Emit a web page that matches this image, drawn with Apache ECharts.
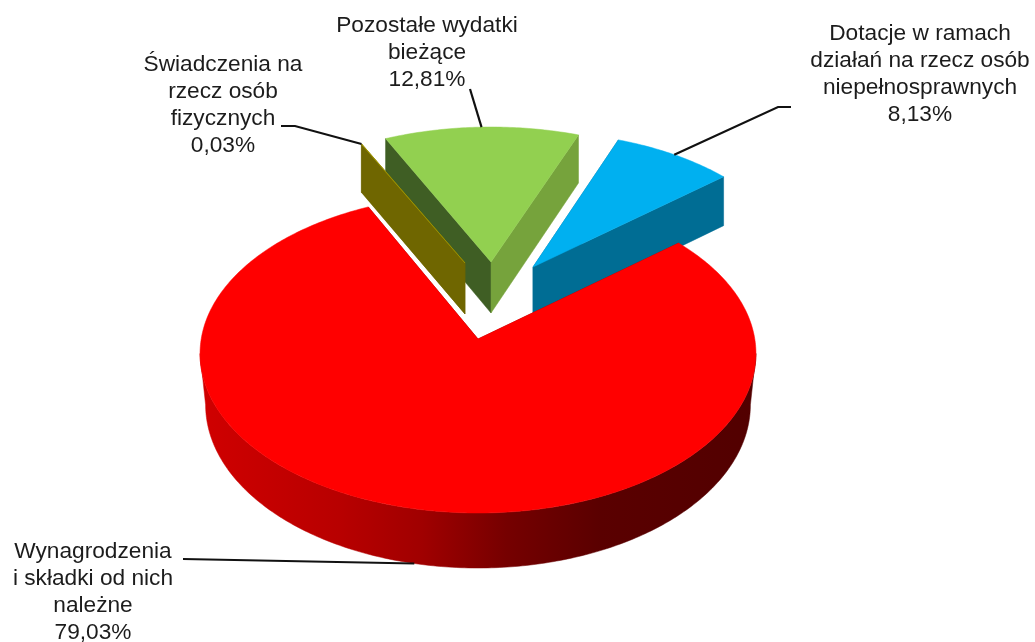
<!DOCTYPE html>
<html>
<head>
<meta charset="utf-8">
<style>html,body{margin:0;padding:0;background:#fff}#c{width:1035px;height:642px}</style>
<script src="https://cdn.jsdelivr.net/npm/echarts@6/dist/echarts.min.js"></script>
</head>
<body>
<div id="c"></div>
<script>
// data, clockwise from the right-hand cut of the large slice
var categories = [
  'Wynagrodzenia\ni składki od nich\nnależne',
  'Świadczenia na\nrzecz osób\nfizycznych',
  'Pozostałe wydatki\nbieżące',
  'Dotacje w ramach\ndziałań na rzecz osób\nniepełnosprawnych'
];
var shares = [79.03, 0.03, 12.81, 8.13];

// layout and style, per slice
var startAngle = 50.1;
var apex = [[478, 339], [465, 263], [491, 262], [533, 267]];
var projA = [276.8, 270, 275.7, 269];
var projB = [158.2, 147, 152.4, 152.4];
var projK = [0.0909, 0.129, 0.129, 0.129];
var bottomScale = [0.98, 1, 1, 1];
var faceColor = ['#FF0000', '#A89E00', '#92D050', '#00B0F0'];
var startWall = ['#8A0000', '#6F6600', '#3F5E24', '#006D94'];
var endWall = ['#8A0000', '#6F6600', '#76A33C', '#006D94'];
var rimWall = ['red', '#6F6600', '#76A33C', '#006D94'];
var paintOrder = [4, 3, 1, 2];
var labelCenter = [[93, 592], [223, 105], [427, 53], [920, 74]];
var leaderEnd = [
  [[183, 559]],
  [[295, 126], [281, 126]],
  [[470, 89]],
  [[778, 107], [791, 107]]
];
var depthBase = 51, depthGrow = 4;

function project(i, deg) {
  var t = deg * Math.PI / 180, X = Math.sin(t), Y = Math.cos(t), w = 1 + projK[i] * Y;
  return [apex[i][0] + projA[i] * X / w, apex[i][1] - projB[i] * Y / w];
}
function lower(i, p) {
  return [
    apex[i][0] + (p[0] - apex[i][0]) * bottomScale[i],
    p[1] + depthBase + depthGrow * (p[1] - apex[i][1]) / 174
  ];
}
function angleRange(i) {
  var total = shares.reduce(function (a, b) { return a + b; }, 0), a = startAngle;
  for (var k = 0; k < i; k++) a += shares[k] / total * 360;
  return [a, a + shares[i] / total * 360];
}
function rim(i, from, to) {
  var pts = [], n = Math.max(1, Math.ceil((to - from) / 0.75));
  for (var k = 0; k <= n; k++) pts.push(project(i, from + (to - from) * k / n));
  return pts;
}
var redSide = new echarts.graphic.LinearGradient(200, 0, 756, 0, [
  { offset: 0, color: '#D00000' },
  { offset: 0.25, color: '#B80000' },
  { offset: 0.4, color: '#A00000' },
  { offset: 0.55, color: '#760000' },
  { offset: 0.72, color: '#5A0000' },
  { offset: 1, color: '#520000' }
], true);

function renderSlice(params) {
  var i = params.dataIndex, z = paintOrder[i] * 10, kids = [], c = apex[i];
  var r = angleRange(i), pts = rim(i, r[0], r[1]);
  var lc = lower(i, c), first = pts[0], last = pts[pts.length - 1];
  function poly(points, fill, zz, stroke) {
    kids.push({ type: 'polygon', z2: zz, silent: true, shape: { points: points },
      style: { fill: fill, stroke: stroke || fill, lineWidth: 0.5 } });
  }
  poly([c, first, lower(i, first), lc], startWall[i], z);
  // the rim wall only exists where the rim faces the viewer
  var tangent = Math.acos(-projK[i]) * 180 / Math.PI;
  var from = Math.max(r[0], tangent), to = Math.min(r[1], 360 - tangent);
  if (to > from) {
    var front = rim(i, from, to);
    var low = front.map(function (p) { return lower(i, p); });
    poly(front.concat(low.reverse()), i === 0 ? redSide : rimWall[i], z + 1);
  }
  poly([c, last, lower(i, last), lc], endWall[i], z + 2);
  poly([c].concat(pts), faceColor[i], z + 3);

  // leader from the rim at the slice's middle angle
  var anchor = project(i, (r[0] + r[1]) / 2);
  if (i === 0) anchor = lower(i, anchor);
  kids.push({ type: 'polyline', z2: 100, silent: true,
    shape: { points: [anchor].concat(leaderEnd[i]) },
    style: { fill: null, stroke: '#111', lineWidth: 2.2 } });
  kids.push({ type: 'text', z2: 101, silent: true, style: {
    x: labelCenter[i][0], y: labelCenter[i][1], align: 'center', verticalAlign: 'middle',
    text: categories[i] + '\n' + shares[i].toFixed(2).replace('.', ',') + '%',
    font: '22.7px "Liberation Sans", Arial, sans-serif', lineHeight: 27, fill: '#1c1c1c' } });
  return { type: 'group', children: kids };
}

var chart = echarts.init(document.getElementById('c'), null, { renderer: 'canvas' });
chart.setOption({
  animation: false,
  backgroundColor: '#fff',
  series: [{
    type: 'custom',
    coordinateSystem: 'none',
    renderItem: renderSlice,
    data: shares.map(function (v, i) { return { name: categories[i], value: v }; })
  }]
});
</script>
</body>
</html>
